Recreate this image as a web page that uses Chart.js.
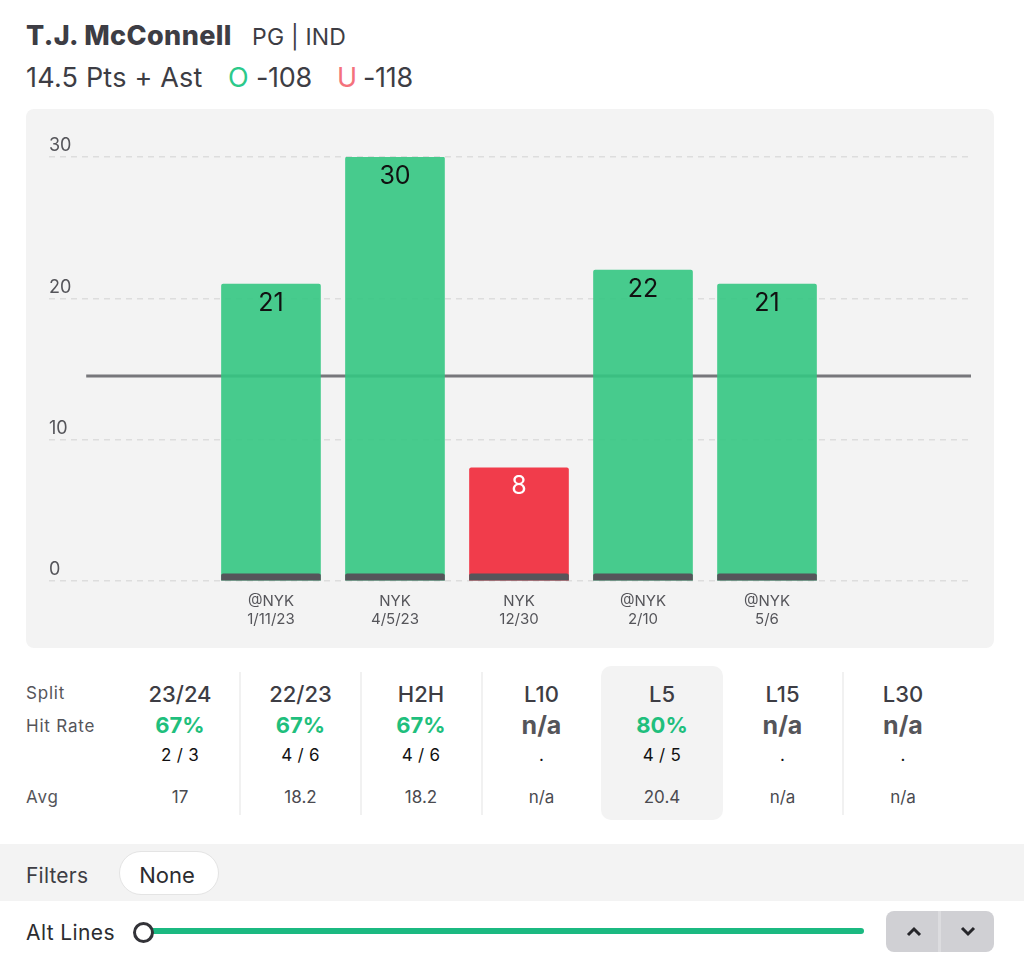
<!DOCTYPE html>
<html>
<head>
<meta charset="utf-8">
<script src="https://cdn.jsdelivr.net/npm/chart.js@4"></script>
<style>
  html, body { margin: 0; padding: 0; background: #fff; width: 1024px; height: 961px; overflow: hidden; font-family: Inter, sans-serif; color: #3d3d44; }
  .abs { position: absolute; white-space: nowrap; }
  #name { left: 26px; top: 19px; font-size: 27px; line-height: 34px; font-weight: 800; letter-spacing: 0.4px; }
  #team { left: 252px; top: 23px; font-size: 23px; line-height: 28px; letter-spacing: 0.2px; }
  #line { left: 26px; top: 61px; font-size: 27px; line-height: 34px; letter-spacing: 0.2px; }
  #line span { position: absolute; top: 0; letter-spacing: -0.3px; }
  #panel { position: absolute; left: 26px; top: 109px; width: 968px; height: 539px; background: #f3f3f3; border-radius: 8px; }
  #panel canvas { display: block; }
  .rowlabel { left: 26px; font-size: 17px; line-height: 20px; letter-spacing: 0.8px; color: #55555a; }
  .highlight { position: absolute; left: 601px; top: 666px; width: 122px; height: 154px; background: #f3f3f3; border-radius: 10px; }
  .divider { position: absolute; top: 672px; width: 2px; height: 143px; background: #f1f1f1; }
  .cell { position: absolute; width: 120px; text-align: center; white-space: nowrap; }
  .split { top: 680px; font-size: 22px; line-height: 28px; font-weight: 500; }
  .rate { top: 710px; font-size: 22px; line-height: 30px; font-weight: 700; color: #1fbf7d; }
  .rate.na { color: #55555a; font-size: 25px; }
  .count { top: 744px; font-size: 17px; line-height: 22px; letter-spacing: 0.3px; color: #111; }
  .avg { top: 786px; font-size: 17px; line-height: 22px; color: #4a4a50; }
  #filters { position: absolute; left: 0; top: 844px; width: 1024px; height: 57px; background: #f3f3f3; }
  #pill { position: absolute; left: 119px; top: 851px; width: 94px; padding-right: 4px; height: 42px; background: #fff; border: 1px solid #e4e4e4; border-radius: 22px; text-align: center; font-size: 22px; line-height: 46px; color: #2c2c30; }
  #track { position: absolute; left: 150px; top: 928px; width: 714px; height: 6px; background: #1bb981; border-radius: 3px; }
  #knob { position: absolute; left: 133px; top: 922px; width: 15px; height: 15px; background: #fff; border: 3px solid #333338; border-radius: 50%; }
  #btns { position: absolute; left: 886px; top: 911px; width: 108px; height: 41px; background: #d0d0d4; border-radius: 8px; }
  #btns i { position: absolute; left: 52px; top: 0; width: 3px; height: 41px; background: #dcdcdf; }
  #btns svg { position: absolute; top: 15px; }
</style>
</head>
<body>
<div class="abs" id="name">T.J. McConnell</div>
<div class="abs" id="team">PG | IND</div>
<div class="abs" id="line">14.5 Pts + Ast<span style="left:202px;color:#2cc98a">O</span><span style="left:230px">-108</span><span style="left:311px;color:#f4727c">U</span><span style="left:337px">-118</span></div>

<div id="panel"><canvas id="chart" width="968" height="539"></canvas></div>

<div class="highlight"></div>
<div class="abs rowlabel" style="top:683px">Split</div>
<div class="abs rowlabel" style="top:716px">Hit Rate</div>
<div class="abs rowlabel" style="top:787px">Avg</div>
<div id="table"></div>

<div id="filters"></div>
<div class="abs" style="left:26px;top:862px;font-size:21px;line-height:28px;color:#3d3d44;letter-spacing:0.2px">Filters</div>
<div id="pill">None</div>
<div class="abs" style="left:26px;top:919px;font-size:21px;line-height:28px;color:#2c2c30;letter-spacing:0.4px">Alt Lines</div>
<div id="track"></div>
<div id="knob"></div>
<div id="btns">
  <svg style="left:20px" width="16" height="11" viewBox="0 0 16 11"><path d="M2 9 L8 3 L14 9" fill="none" stroke="#26262a" stroke-width="3"/></svg>
  <i></i>
  <svg style="left:74px" width="16" height="11" viewBox="0 0 16 11"><path d="M2 2 L8 8 L14 2" fill="none" stroke="#26262a" stroke-width="3"/></svg>
</div>

<script>
// chart data
const opponents = ['@NYK', 'NYK', 'NYK', '@NYK', '@NYK'];
const dates = ['1/11/23', '4/5/23', '12/30', '2/10', '5/6'];
const totals = [21, 30, 8, 22, 21];
const propLine = 14.5;
const baseBand = 0.5;
const yTicks = [0, 10, 20, 30];

// table data
const splits = ['23/24', '22/23', 'H2H', 'L10', 'L5', 'L15', 'L30'];
const hitRates = ['67%', '67%', '67%', 'n/a', '80%', 'n/a', 'n/a'];
const hitCounts = ['2 / 3', '4 / 6', '4 / 6', '.', '4 / 5', '.', '.'];
const averages = ['17', '18.2', '18.2', 'n/a', '20.4', 'n/a', 'n/a'];

const GREEN = 'rgba(52, 199, 130, 0.9)';
const RED = 'rgba(240, 50, 65, 0.95)';

// value labels inside the top of each bar
const barLabels = {
    id: 'barLabels',
    afterDatasetsDraw(chart) {
        const ctx = chart.ctx;
        const meta = chart.getDatasetMeta(1);
        ctx.save();
        ctx.font = '25px Inter, sans-serif';
        ctx.textAlign = 'center';
        ctx.textBaseline = 'middle';
        meta.data.forEach((bar, i) => {
            ctx.fillStyle = totals[i] > propLine ? '#111' : '#fff';
            ctx.fillText(totals[i], bar.x, bar.y + 19);
        });
        ctx.restore();
    }
};

new Chart(document.getElementById('chart').getContext('2d'), {
    data: {
        datasets: [
            {
                type: 'bar',
                data: totals.map((v, i) => ({ x: i + 1, y: baseBand })),
                backgroundColor: '#55555a',
                borderRadius: 2,
                barThickness: 99,
                grouped: false,
                order: 1
            },
            {
                type: 'bar',
                data: totals.map((v, i) => ({ x: i + 1, y: v })),
                backgroundColor: totals.map(v => v > propLine ? GREEN : RED),
                borderRadius: 2,
                barThickness: 99,
                grouped: false,
                order: 2
            },
            {
                type: 'line',
                data: [{ x: -0.49, y: propLine }, { x: 6.645, y: propLine }],
                borderColor: '#77777b',
                borderWidth: 3,
                pointRadius: 0,
                order: 3
            }
        ]
    },
    plugins: [barLabels],
    options: {
        responsive: false,
        animation: false,
        layout: { padding: { left: 23, right: 23, top: 48, bottom: 0 } },
        plugins: { legend: { display: false }, tooltip: { enabled: false } },
        scales: {
            x: {
                type: 'linear',
                offset: false,
                min: -0.79,
                max: 6.645,
                afterBuildTicks: scale => { scale.ticks = opponents.map((o, i) => ({ value: i + 1 })); },
                afterFit: scale => { scale.height = 67; },
                grid: { display: false, offset: false },
                border: { display: false },
                ticks: {
                    autoSkip: false,
                    maxRotation: 0,
                    padding: 3,
                    color: '#55555a',
                    font: { family: 'Inter, sans-serif', size: 15, lineHeight: 1.2 },
                    callback: value => [opponents[value - 1], dates[value - 1]]
                }
            },
            y: {
                min: 0,
                max: 30,
                afterBuildTicks: scale => { scale.ticks = yTicks.map(v => ({ value: v })); },
                grid: { color: '#dddddd', lineWidth: 1.5, tickLength: 0, drawTicks: false },
                border: { display: false, dash: [6, 5] },
                ticks: {
                    mirror: true,
                    padding: 0,
                    labelOffset: -11,
                    color: '#55555a',
                    font: { family: 'Inter, sans-serif', size: 18 }
                }
            }
        }
    }
});

// split table under the chart
const table = document.getElementById('table');
const colLeft = i => 120 + i * 120.5;
splits.forEach((s, i) => {
    [['split', s], ['rate', hitRates[i]], ['count', hitCounts[i]], ['avg', averages[i]]].forEach(([cls, text]) => {
        const el = document.createElement('div');
        el.className = 'cell ' + cls + (cls === 'rate' && text === 'n/a' ? ' na' : '');
        el.style.left = colLeft(i) + 'px';
        el.textContent = text;
        table.appendChild(el);
    });
});
[239, 360, 481, 842].forEach(x => {
    const d = document.createElement('div');
    d.className = 'divider';
    d.style.left = x + 'px';
    table.appendChild(d);
});
</script>
</body>
</html>
